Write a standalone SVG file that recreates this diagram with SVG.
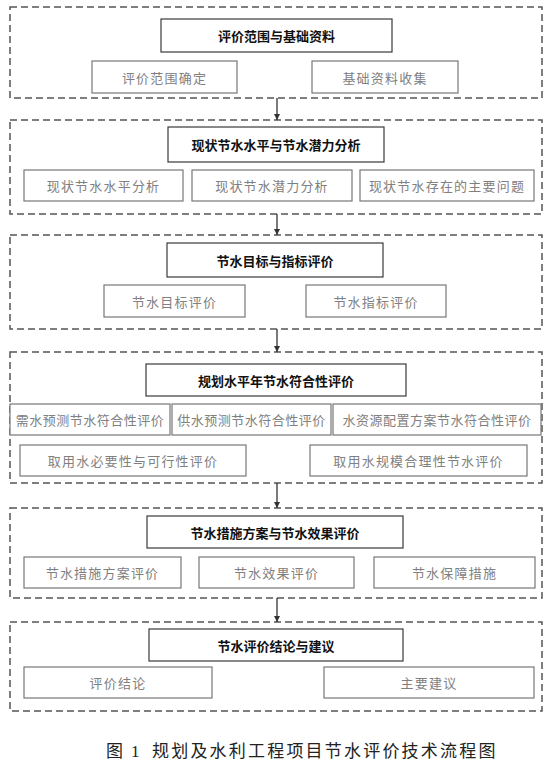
<svg xmlns="http://www.w3.org/2000/svg" width="559" height="772" viewBox="0 0 559 772">
<style>
.sec{fill:none;stroke:#555;stroke-width:1.5;stroke-dasharray:7 4}
.tb{fill:#fff;stroke:#3a3a3a;stroke-width:1.2}
.sb{fill:#fff;stroke:#777;stroke-width:1.2}
.tt{font-family:"Noto Sans CJK SC",sans-serif;font-size:13px;font-weight:bold;fill:#111;text-anchor:middle;dominant-baseline:central}
.st{font-family:"Noto Sans CJK SC",sans-serif;font-size:13px;font-weight:normal;fill:#808080;text-anchor:middle;dominant-baseline:central;letter-spacing:1.2px}
.cap{font-family:"Liberation Serif","Noto Sans CJK SC",serif;font-size:17px;fill:#222;letter-spacing:2.2px}
.ar{stroke:#333;stroke-width:1.3;fill:none}
</style>
<defs>
<marker id="ah" viewBox="0 0 8 8" refX="8" refY="4" markerWidth="6" markerHeight="6" orient="auto" markerUnits="userSpaceOnUse">
<path d="M0,0 L8,4 L0,8 z" fill="#333"/>
</marker>
</defs>
<rect width="559" height="772" fill="#fff"/>

<g id="s1">
<rect class="sec" x="10" y="7" width="532" height="91"/>
<rect class="tb" x="161" y="19" width="231" height="33"/>
<text class="tt" x="276.5" y="35.5">评价范围与基础资料</text>
<rect class="sb" x="92" y="61" width="145" height="32"/>
<text class="st" x="164.5" y="77">评价范围确定</text>
<rect class="sb" x="312" y="61" width="146" height="32"/>
<text class="st" x="385" y="77">基础资料收集</text>
</g>

<g id="s2">
<rect class="sec" x="10" y="120" width="532" height="94"/>
<rect class="tb" x="168" y="127" width="216" height="35"/>
<text class="tt" x="276" y="144.5">现状节水水平与节水潜力分析</text>
<rect class="sb" x="24" y="170" width="159" height="31"/>
<text class="st" x="103.5" y="185.5">现状节水水平分析</text>
<rect class="sb" x="192" y="170" width="160" height="31"/>
<text class="st" x="272" y="185.5">现状节水潜力分析</text>
<rect class="sb" x="360" y="170" width="174" height="31"/>
<text class="st" x="447" y="185.5">现状节水存在的主要问题</text>
</g>

<g id="s3">
<rect class="sec" x="10" y="235" width="532" height="94"/>
<rect class="tb" x="167" y="243" width="216" height="34"/>
<text class="tt" x="275" y="260">节水目标与指标评价</text>
<rect class="sb" x="104" y="285" width="141" height="32"/>
<text class="st" x="174.5" y="301">节水目标评价</text>
<rect class="sb" x="306" y="285" width="140" height="32"/>
<text class="st" x="376" y="301">节水指标评价</text>
</g>

<g id="s4">
<rect class="sec" x="10" y="352" width="532" height="131"/>
<rect class="tb" x="146" y="364" width="260" height="32"/>
<text class="tt" x="276" y="380">规划水平年节水符合性评价</text>
<rect class="sb" x="10" y="404" width="160" height="31"/>
<text class="st" x="90" y="419.5" style="letter-spacing:0.5px">需水预测节水符合性评价</text>
<rect class="sb" x="172" y="404" width="159" height="31"/>
<text class="st" x="251.5" y="419.5" style="letter-spacing:0.5px">供水预测节水符合性评价</text>
<rect class="sb" x="333" y="404" width="208" height="31"/>
<text class="st" x="437" y="419.5" style="letter-spacing:0.5px">水资源配置方案节水符合性评价</text>
<rect class="sb" x="20" y="445" width="226" height="31"/>
<text class="st" x="133" y="460.5">取用水必要性与可行性评价</text>
<rect class="sb" x="310" y="445" width="217" height="31"/>
<text class="st" x="418.5" y="460.5">取用水规模合理性节水评价</text>
</g>

<g id="s5">
<rect class="sec" x="10" y="508" width="532" height="90"/>
<rect class="tb" x="147" y="516" width="256" height="32"/>
<text class="tt" x="275" y="532">节水措施方案与节水效果评价</text>
<rect class="sb" x="24" y="557" width="157" height="31"/>
<text class="st" x="102.5" y="572.5">节水措施方案评价</text>
<rect class="sb" x="199" y="557" width="155" height="31"/>
<text class="st" x="276.5" y="572.5">节水效果评价</text>
<rect class="sb" x="374" y="557" width="161" height="31"/>
<text class="st" x="454.5" y="572.5">节水保障措施</text>
</g>

<g id="s6">
<rect class="sec" x="10" y="622" width="532" height="89"/>
<rect class="tb" x="149" y="629" width="254" height="32"/>
<text class="tt" x="276" y="645">节水评价结论与建议</text>
<rect class="sb" x="24" y="667" width="188" height="31"/>
<text class="st" x="118" y="682.5">评价结论</text>
<rect class="sb" x="324" y="667" width="210" height="31"/>
<text class="st" x="429" y="682.5">主要建议</text>
</g>

<g id="connectors">
<line class="ar" x1="277" y1="98" x2="277" y2="120" marker-end="url(#ah)"/>
<line class="ar" x1="277" y1="214" x2="277" y2="235" marker-end="url(#ah)"/>
<line class="ar" x1="277" y1="329" x2="277" y2="352" marker-end="url(#ah)"/>
<line class="ar" x1="277" y1="483" x2="277" y2="508" marker-end="url(#ah)"/>
<line class="ar" x1="277" y1="598" x2="277" y2="622" marker-end="url(#ah)"/>
</g>

<text class="cap" x="106" y="757" style="letter-spacing:0">图<tspan x="131">1</tspan><tspan x="152" style="letter-spacing:2.2px">规划及水利工程项目节水评价技术流程图</tspan></text>
</svg>
